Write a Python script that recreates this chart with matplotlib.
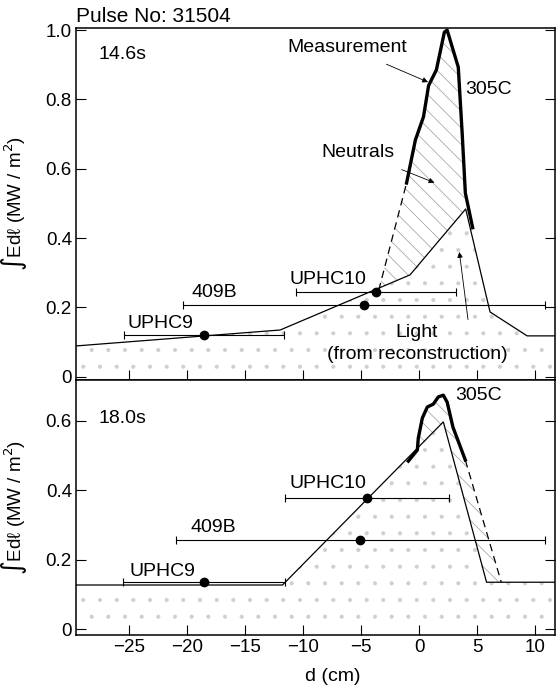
import numpy as np
import matplotlib
matplotlib.use("Agg")
import matplotlib.pyplot as plt

plt.rcParams['font.family'] = ['Liberation Sans', 'DejaVu Sans']
plt.rcParams['hatch.linewidth'] = 0.5

# ---- 14.6 s (top panel) ----
light1_x = [-29.6, -12.0, -0.8, 4.0, 6.1, 9.3, 11.7]
light1_y = [0.089, 0.135, 0.294, 0.484, 0.187, 0.118, 0.118]
meas1_x = [-1.1, -0.34, 0.36, 0.8, 1.47, 2.16, 2.4, 3.36, 3.7, 3.97, 4.6]
meas1_y = [0.559, 0.683, 0.75, 0.84, 0.885, 0.994, 1.0, 0.893, 0.70, 0.53, 0.43]
dash1_x = [-3.5, -1.1]
dash1_y = [0.25, 0.559]

# chords: centre, half-width, value
chord1_names = ['UPHC9', '409B', 'UPHC10']
chord1_x = [-18.6, -4.8, -3.7]
chord1_w = [6.9, 15.6, 6.9]
chord1_y = [0.121, 0.207, 0.245]

# ---- 18.0 s (bottom panel) ----
light2_x = [-29.6, -11.8, 2.07, 5.8, 11.7]
light2_y = [0.127, 0.127, 0.597, 0.135, 0.135]
meas2_x = [-0.95, -0.17, -0.09, 0.26, 0.69, 1.2, 1.64, 2.07, 2.4, 2.9, 3.97]
meas2_y = [0.484, 0.516, 0.55, 0.608, 0.64, 0.648, 0.669, 0.674, 0.654, 0.582, 0.487]
dash2_x = [3.97, 7.07]
dash2_y = [0.487, 0.135]

chord2_names = ['UPHC9', '409B', 'UPHC10']
chord2_x = [-18.6, -5.1, -4.5]
chord2_w = [7.0, 15.9, 7.1]
chord2_y = [0.136, 0.256, 0.377]

fig = plt.figure(figsize=(5.6, 6.92), dpi=100)
ax1 = fig.add_axes([0.136, 0.451, 0.855, 0.5085])
ax2 = fig.add_axes([0.136, 0.0824, 0.855, 0.3686])

ylabel = '\u222bEd\u2113 (MW / m$^2$)'
fs = 14


def style(ax, ylim, yticks):
    ax.set_xlim(-29.6, 11.7)
    ax.set_ylim(*ylim)
    ax.set_xticks([-25, -20, -15, -10, -5, 0, 5, 10])
    ax.set_xticklabels(['\u221225', '\u221220', '\u221215', '\u221210', '\u22125', '0', '5', '10'])
    ax.set_yticks(yticks)
    ax.set_yticklabels(['0' if t == 0 else f'{t:.1f}' for t in yticks])
    ax.tick_params(direction='in', length=7, width=0.8, labelsize=13.5, right=True, pad=3)
    for s in ax.spines.values():
        s.set_linewidth(1.1)
    ax.set_ylabel(ylabel, fontsize=13.5)
    ax.yaxis.set_label_coords(-0.098, 0.5)


# top panel
style(ax1, (-0.009, 1.006), [0, 0.2, 0.4, 0.6, 0.8, 1.0])
ax1.tick_params(labelbottom=False)
ax1.fill_between(light1_x, 0, light1_y, facecolor='white', edgecolor='#cfcfcf',
                 hatch='.', linewidth=0)
neut1_x = dash1_x[:1] + meas1_x[:10] + [4.0, -0.8, -3.5]
neut1_y = dash1_y[:1] + meas1_y[:10] + [0.484, 0.294, 0.253]
ax1.fill(neut1_x, neut1_y, facecolor='white', edgecolor='#9a9a9a', hatch='\\\\', linewidth=0)
ax1.plot(light1_x, light1_y, color='black', lw=0.9)
ax1.plot(meas1_x, meas1_y, color='black', lw=2.4, solid_joinstyle='round')
ax1.plot(dash1_x, dash1_y, color='black', lw=0.9, ls=(0, (6, 4)))
ax1.errorbar(chord1_x, chord1_y, xerr=chord1_w, fmt='o', color='black', ms=6,
             elinewidth=0.8, capsize=3, capthick=0.8)

ax1.text(-29.6, 1.012, 'Pulse No: 31504', fontsize=15, va='bottom', ha='left')
ax1.text(-27.7, 0.93, '14.6s', fontsize=fs, va='center')
ax1.text(-22.3, 0.155, chord1_names[0], fontsize=fs, ha='center', va='center')
ax1.text(-17.7, 0.243, chord1_names[1], fontsize=fs, ha='center', va='center')
ax1.text(-7.9, 0.28, chord1_names[2], fontsize=fs, ha='center', va='center')
ax1.text(3.97, 0.83, '305C', fontsize=fs, ha='left', va='center')
ax1.annotate('Measurement', xy=(0.75, 0.85), xytext=(-6.2, 0.95), fontsize=fs,
             ha='center', va='center',
             arrowprops=dict(arrowstyle='-|>', color='black', lw=0.6, mutation_scale=8,
                             shrinkA=10, shrinkB=0))
ax1.annotate('Neutrals', xy=(1.3, 0.56), xytext=(-5.3, 0.648), fontsize=fs,
             ha='center', va='center',
             arrowprops=dict(arrowstyle='-|>', color='black', lw=0.6, mutation_scale=8,
                             shrinkA=12, shrinkB=0))
ax1.annotate('', xy=(3.45, 0.36), xytext=(4.2, 0.165),
             arrowprops=dict(arrowstyle='-|>', color='black', lw=0.6, mutation_scale=8,
                             shrinkA=0, shrinkB=0))
ax1.text(-0.25, 0.127, 'Light', fontsize=fs, ha='center', va='center')
ax1.text(-0.2, 0.063, '(from reconstruction)', fontsize=fs, ha='center', va='center')

# bottom panel
style(ax2, (-0.017, 0.718), [0, 0.2, 0.4, 0.6])
ax2.fill_between(light2_x, 0, light2_y, facecolor='white', edgecolor='#cfcfcf',
                 hatch='.', linewidth=0)
neut2_x = meas2_x + dash2_x[1:] + [5.8, 2.07]
neut2_y = meas2_y + dash2_y[1:] + [0.135, 0.597]
ax2.fill(neut2_x, neut2_y, facecolor='white', edgecolor='#9a9a9a', hatch='\\\\', linewidth=0)
ax2.plot(light2_x, light2_y, color='black', lw=0.9)
ax2.plot(meas2_x, meas2_y, color='black', lw=2.4, solid_joinstyle='round')
ax2.plot(dash2_x, dash2_y, color='black', lw=0.9, ls=(0, (6, 4)))
ax2.errorbar(chord2_x, chord2_y, xerr=chord2_w, fmt='o', color='black', ms=6,
             elinewidth=0.8, capsize=3, capthick=0.8)

ax2.text(-27.7, 0.608, '18.0s', fontsize=fs, va='center')
ax2.text(-22.2, 0.165, chord2_names[0], fontsize=fs, ha='center', va='center')
ax2.text(-17.8, 0.294, chord2_names[1], fontsize=fs, ha='center', va='center')
ax2.text(-7.9, 0.42, chord2_names[2], fontsize=fs, ha='center', va='center')
ax2.text(3.1, 0.672, '305C', fontsize=fs, ha='left', va='center')
ax2.set_xlabel('d (cm)', fontsize=fs)
ax2.xaxis.set_label_coords(0.535, -0.13)

fig.savefig('out.png', dpi=100)
